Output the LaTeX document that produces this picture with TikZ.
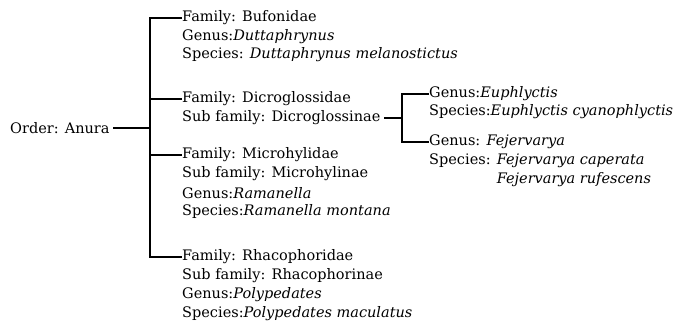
\documentclass[tikz,border=0pt]{standalone}
\usepackage{fontspec}
\setmainfont{DejaVu Serif}
\usetikzlibrary{positioning}
\tikzset{
  lbl/.style={anchor=west, inner sep=1pt, font=\fontsize{14.5}{16}\selectfont},
  branch/.style={line width=2.2pt, line cap=rect},
}

\begin{document}
\begin{tikzpicture}[x=1pt, y=-1pt]
  \useasboundingbox (0,0) rectangle (678,331);
  \coordinate (sp) at (150,0);
  \coordinate (sq) at (402,0);

  % Order
  \node[lbl] (root) at (9,128) {Order: Anura};

  % Bufonidae
  \node[lbl] (buf) at (181,18) {Family: Bufonidae};
  \node[lbl] (bufg) at (181,37) {Genus:\textit{Duttaphrynus}};
  \node[lbl] (bufs) at (181,55) {Species: \textit{Duttaphrynus melanostictus}};

  % Dicroglossidae
  \node[lbl] (dic) at (181,99) {Family: Dicroglossidae};
  \node[lbl] (dics) at (181,118) {Sub family: Dicroglossinae};

  % Microhylidae
  \node[lbl] (mic) at (181,155) {Family: Microhylidae};
  \node[lbl] (mics) at (181,174) {Sub family: Microhylinae};
  \node[lbl] (micg) at (181,193) {Genus:\textit{Ramanella}};
  \node[lbl] (micsp) at (181,212) {Species:\textit{Ramanella montana}};

  % Rhacophoridae
  \node[lbl] (rha) at (181,257) {Family: Rhacophoridae};
  \node[lbl] (rhas) at (181,276) {Sub family: Rhacophorinae};
  \node[lbl] (rhag) at (181,295) {Genus:\textit{Polypedates}};
  \node[lbl] (rhasp) at (181,314) {Species:\textit{Polypedates maculatus}};

  % Dicroglossinae genera
  \node[lbl] (eup) at (428,94) {Genus:\textit{Euphlyctis}};
  \node[lbl] (eups) at (428,112) {Species:\textit{Euphlyctis cyanophlyctis}};
  \node[lbl] (fej) at (428,142) {Genus: \textit{Fejervarya}};
  \node[lbl] (fejs) at (428,161) {Species: \textit{Fejervarya caperata}};
  \node[lbl] (fejr) at (428,180) {\phantom{Species: }\textit{Fejervarya rufescens}};

  % Connectors
  \draw[branch, shorten <=3pt] (root.east) -- (sp |- root.east);
  \draw[branch] (buf.west) -| (sp |- rha.west) -- (rha.west);
  \draw[branch] (dic.west) -- (sp |- dic.west);
  \draw[branch] (mic.west) -- (sp |- mic.west);
  \draw[branch, shorten <=3pt] (dics.east) -- (sq |- dics.east);
  \draw[branch] (eup.west) -| (sq |- fej.west) -- (fej.west);
\end{tikzpicture}
\end{document}
